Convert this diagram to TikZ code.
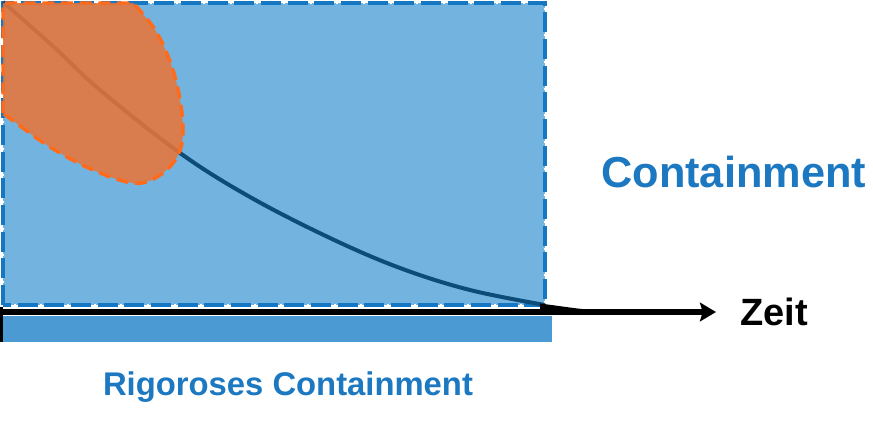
\documentclass[tikz,border=0pt]{standalone}
\usepackage{fontspec}
\setmainfont{Liberation Sans}
\usetikzlibrary{arrows.meta}
\definecolor{lightblue}{HTML}{72B3DF}
\definecolor{barblue}{HTML}{4B9AD3}
\definecolor{borderblue}{HTML}{1577C2}
\definecolor{textblue}{HTML}{1C78C0}
\definecolor{curvenavy}{HTML}{0D4C78}
\definecolor{orangefill}{HTML}{EC7537}
\definecolor{orangeline}{HTML}{FF6B1A}
\tikzset{
  bluetext/.style={text=textblue, font=\bfseries, inner sep=0pt},
  boxborder/.style={draw=borderblue, line width=3pt, dash pattern=on 15pt off 5pt},
  boxdots/.style={draw=white, line width=2pt, dash pattern=on 1.5pt off 18.5pt, dash phase=-16.5pt},
  axisline/.style={draw=black, line width=4.2pt, -{Stealth[length=12pt,width=14pt,inset=2pt]}},
  decay/.style={draw=curvenavy, line width=3pt},
  blob/.style={fill=orangefill, fill opacity=0.86, draw=orangeline, draw opacity=1, line width=2.6pt, dash pattern=on 9pt off 5pt}
}
\begin{document}
\begin{tikzpicture}[x=0.75pt,y=-0.75pt]
\useasboundingbox (0,0) rectangle (873,430);
% containment area
\fill[lightblue] (3,3) rectangle (545,305);
\path[boxborder] (3,305) -- (3,3) -- (545,3) -- (545,305) -- cycle;
\path[boxdots] (3,305) -- (3,3) -- (545,3) -- (545,305) -- cycle;
% rigorous containment bar
\fill[barblue] (3,316) rectangle (552,342);
% axes
\coordinate (origin) at (1,312);
\coordinate (axisend) at (716,312);
\coordinate (ybottom) at (1.5,342);
\coordinate (ytop) at (1.5,307);
\draw[black, line width=2.5pt] (ybottom) -- (ytop);
\draw[axisline] (origin) -- (axisend);
% decay curve
\draw[decay] plot[smooth, tension=0.6] coordinates {(3,2) (55,48) (100,90) (180,153) (250,197) (330,238) (400,268) (470,290) (545,305)};
\fill[black] (540,303.5) .. controls (560,306) and (575,308.5) .. (592,310) -- (540,310) -- cycle;
% orange blob
\path[blob] (3,113) -- (3,3) -- (133,3) -- plot[smooth, tension=0.6] coordinates {(133,3) (157,33) (175,77) (183,127) (177,157) (157,177) (133,183) (93,170) (50,147) (12,120) (3,113)} -- cycle;
% labels
\node[anchor=west, font=\bfseries, inner sep=0pt] (zeit) at (740,312) {\fontsize{28.5pt}{30pt}\selectfont Zeit};
\node[bluetext, anchor=west] (cont) at (601,172) {\fontsize{32.5pt}{34pt}\selectfont Containment};
\node[bluetext] (rig) at (288,387) {\fontsize{24.6pt}{26pt}\selectfont Rigoroses Containment};
\end{tikzpicture}
\end{document}
